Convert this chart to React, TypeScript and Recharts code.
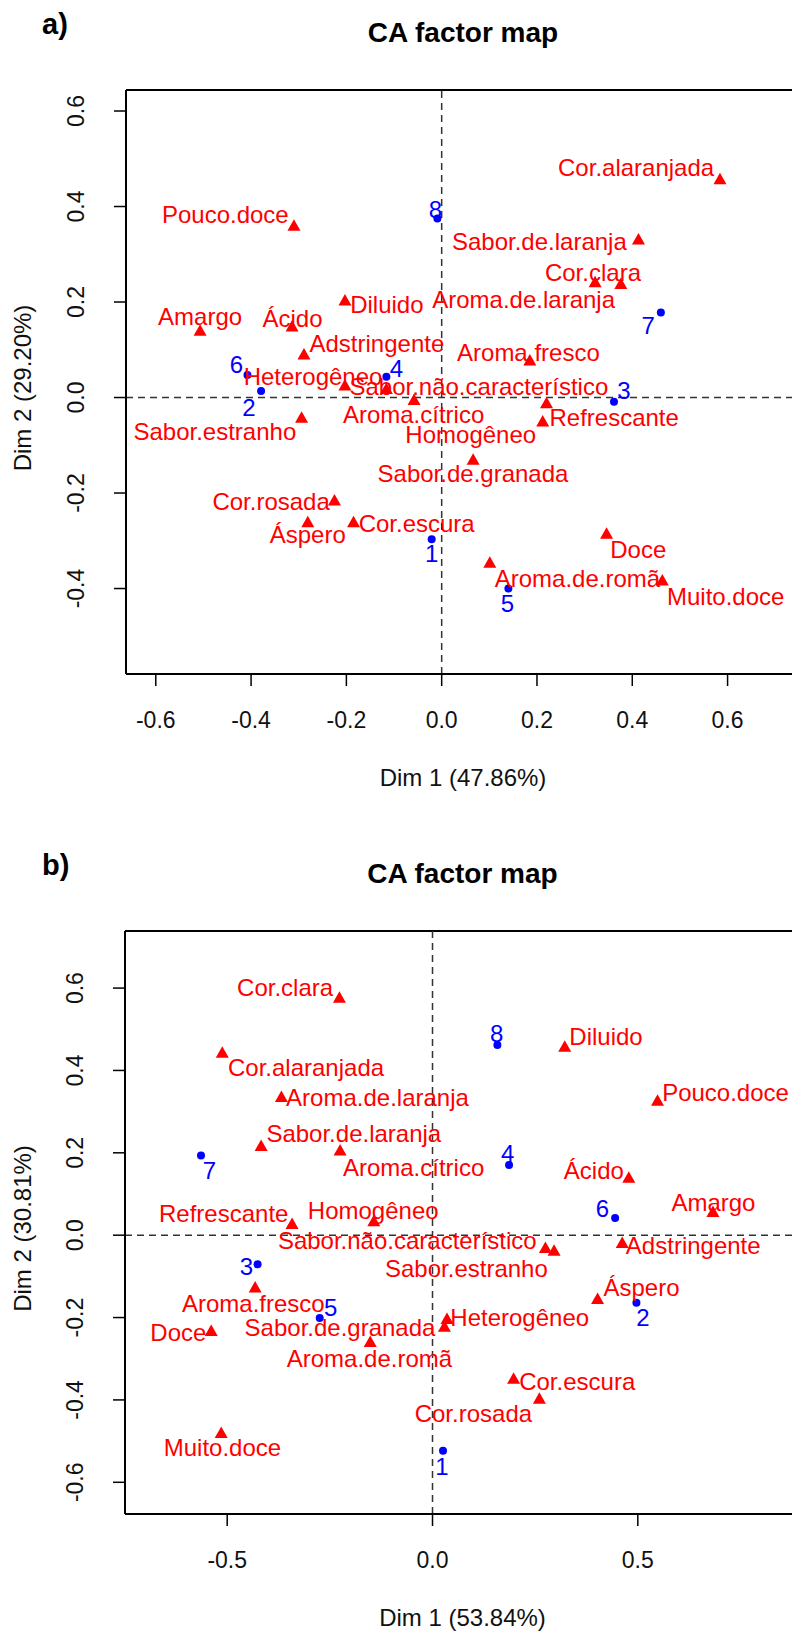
import React from 'react';
import { ScatterChart, Scatter, XAxis, YAxis, ReferenceLine } from 'recharts';

const FONT = "'Liberation Sans', Arial, Helvetica, sans-serif";

// ---- panel a) ----
const aColNames = ['Cor.alaranjada', 'Pouco.doce', 'Sabor.de.laranja', 'Cor.clara', 'Aroma.de.laranja', 'Diluido', 'Amargo', 'Ácido', 'Adstringente', 'Aroma.fresco', 'Heterogêneo', 'Sabor.não.característico', 'Aroma.cítrico', 'Homogêneo', 'Refrescante', 'Sabor.estranho', 'Sabor.de.granada', 'Cor.rosada', 'Áspero', 'Cor.escura', 'Doce', 'Aroma.de.romã', 'Muito.doce'];
const aColX = [0.584, -0.31, 0.413, 0.376, 0.322, -0.203, -0.507, -0.314, -0.289, 0.185, -0.203, -0.116, -0.058, 0.22, 0.212, -0.294, 0.066, -0.225, -0.281, -0.185, 0.346, 0.101, 0.463];
const aColY = [0.458, 0.361, 0.332, 0.239, 0.2425, 0.204, 0.141, 0.15, 0.091, 0.0785, 0.026, 0.019, -0.004, -0.011, -0.049, -0.0415, -0.1295, -0.2147, -0.26, -0.26, -0.284, -0.345, -0.382];
const aColLabX = [0.408, -0.454, 0.205, 0.3175, 0.172, -0.115, -0.507, -0.313, -0.136, 0.182, -0.27, 0.078, -0.059, 0.061, 0.362, -0.476, 0.0657, -0.358, -0.281, -0.0525, 0.4126, 0.285, 0.596];
const aColLabY = [0.481, 0.3836, 0.326, 0.261, 0.205, 0.194, 0.169, 0.166, 0.1135, 0.0947, 0.0436, 0.0226, -0.0366, -0.0785, -0.042, -0.0716, -0.16, -0.218, -0.288, -0.2635, -0.319, -0.379, -0.417];
const aRowNames = ['1', '2', '3', '4', '5', '6', '7', '8'];
const aRowX = [-0.021, -0.379, 0.3616, -0.116, 0.14, -0.4076, 0.46, -0.009];
const aRowY = [-0.297, 0.0136, -0.0088, 0.0436, -0.4, 0.047, 0.178, 0.375];
const aRowLabX = [-0.021, -0.4044, 0.3826, -0.095, 0.138, -0.431, 0.4336, -0.013];
const aRowLabY = [-0.326, -0.0205, 0.0142, 0.061, -0.431, 0.068, 0.15, 0.394];
const aXTicks = [-0.6, -0.4, -0.2, 0, 0.2, 0.4, 0.6];
const aYTicks = [-0.4, -0.2, 0, 0.2, 0.4, 0.6];

// ---- panel b) ----
const bColNames = ['Cor.clara', 'Diluido', 'Cor.alaranjada', 'Pouco.doce', 'Aroma.de.laranja', 'Sabor.de.laranja', 'Aroma.cítrico', 'Ácido', 'Amargo', 'Refrescante', 'Homogêneo', 'Sabor.não.característico', 'Adstringente', 'Sabor.estranho', 'Áspero', 'Aroma.fresco', 'Doce', 'Sabor.de.granada', 'Heterogêneo', 'Aroma.de.romã', 'Cor.escura', 'Cor.rosada', 'Muito.doce'];
const bColX = [-0.2267, 0.322, -0.512, 0.548, -0.368, -0.4174, -0.225, 0.478, 0.683, -0.342, -0.143, 0.275, 0.462, 0.296, 0.402, -0.432, -0.539, 0.029, 0.0353, -0.1517, 0.1975, 0.2603, -0.5146];
const bColY = [0.578, 0.459, 0.444, 0.3276, 0.337, 0.218, 0.207, 0.1405, 0.0576, 0.0283, 0.0349, -0.03, -0.018, -0.0366, -0.154, -0.126, -0.2317, -0.2212, -0.2024, -0.258, -0.3473, -0.396, -0.479];
const bColLabX = [-0.359, 0.4226, -0.308, 0.7136, -0.134, -0.1917, -0.046, 0.393, 0.6842, -0.5085, -0.1444, -0.0614, 0.635, 0.0826, 0.509, -0.4364, -0.619, -0.2253, 0.2124, -0.1537, 0.3524, 0.0996, -0.5115];
const bColLabY = [0.6, 0.482, 0.407, 0.346, 0.334, 0.246, 0.165, 0.157, 0.0795, 0.0512, 0.0593, -0.0122, -0.026, -0.0805, -0.128, -0.166, -0.2376, -0.2254, -0.201, -0.2985, -0.3554, -0.4327, -0.5163];
const bRowNames = ['1', '2', '3', '4', '5', '6', '7', '8'];
const bRowX = [0.0256, 0.4966, -0.426, 0.1864, -0.2747, 0.4447, -0.5638, 0.158];
const bRowY = [-0.5237, -0.1643, -0.0707, 0.1707, -0.201, 0.0415, 0.1934, 0.4617];
const bRowLabX = [0.023, 0.5127, -0.453, 0.183, -0.2477, 0.414, -0.543, 0.156];
const bRowLabY = [-0.563, -0.201, -0.0773, 0.199, -0.1766, 0.0634, 0.157, 0.49];
const bXTicks = [-0.5, 0, 0.5];
const bYTicks = [-0.6, -0.4, -0.2, 0, 0.2, 0.4, 0.6];

const toPoints = (names: string[], xs: number[], ys: number[]) =>
    names.map((name, i) => ({ name, x: xs[i], y: ys[i] }));

const Triangle = (props: any) => {
    const { cx, cy } = props;
    if (cx == null || cy == null) return null;
    return <polygon points={`${cx},${cy - 6} ${cx - 6.5},${cy + 5.5} ${cx + 6.5},${cy + 5.5}`} fill="#ff0000" />;
};

const Dot = (props: any) => {
    const { cx, cy } = props;
    if (cx == null || cy == null) return null;
    return <circle cx={cx} cy={cy} r={4} fill="#0000ff" />;
};

const makeLabel = (color: string) => (props: any) => {
    const { cx, cy, payload } = props;
    if (cx == null || cy == null) return null;
    return (
        <text x={cx} y={cy} dy="0.35em" textAnchor="middle" fill={color} fontSize={24} fontFamily={FONT}>
            {payload.name}
        </text>
    );
};

const XTick = (props: any) => (
    <text x={props.x} y={props.y + 42} textAnchor="middle" fill="#111" fontSize={23} fontFamily={FONT}>
        {Number(props.payload.value).toFixed(1)}
    </text>
);

const YTick = (props: any) => {
    const bx = props.x - 30;
    return (
        <text x={bx} y={props.y} textAnchor="middle" fill="#111" fontSize={23} fontFamily={FONT}
            transform={`rotate(-90, ${bx}, ${props.y})`}>
            {Number(props.payload.value).toFixed(1)}
        </text>
    );
};

interface PanelProps {
    letter: string;
    xTitle: string;
    yTitle: string;
    height: number;
    top: number;
    bottom: number;
    left: number;
    xDomain: [number, number];
    yDomain: [number, number];
    xTicks: number[];
    yTicks: number[];
    cols: { name: string; x: number; y: number }[];
    colLabels: { name: string; x: number; y: number }[];
    rows: { name: string; x: number; y: number }[];
    rowLabels: { name: string; x: number; y: number }[];
}

const CAPanel: React.FC<PanelProps> = (p) => {
    const W = 792;
    const plotBottom = p.height - p.bottom;
    const centerX = (p.left + 800) / 2;
    return (
        <div style={{ position: 'relative', width: W, height: p.height }}>
            <ScatterChart width={W} height={p.height}
                margin={{ top: p.top, right: 0, bottom: p.bottom - 60, left: p.left - 60 }}>
                <XAxis type="number" dataKey="x" domain={p.xDomain} allowDataOverflow ticks={p.xTicks}
                    height={60} tickSize={12} tickMargin={0} interval={0}
                    axisLine={{ stroke: '#000', strokeWidth: 2 }} tickLine={{ stroke: '#000', strokeWidth: 1.5 }}
                    tick={<XTick />} />
                <YAxis type="number" dataKey="y" domain={p.yDomain} allowDataOverflow ticks={p.yTicks}
                    width={60} tickSize={12} tickMargin={0} interval={0}
                    axisLine={{ stroke: '#000', strokeWidth: 2 }} tickLine={{ stroke: '#000', strokeWidth: 1.5 }}
                    tick={<YTick />} />
                <ReferenceLine y={p.yDomain[1]} stroke="#000" strokeWidth={2} />
                <ReferenceLine x={0} stroke="#333" strokeWidth={1.5} strokeDasharray="7 5" />
                <ReferenceLine y={0} stroke="#333" strokeWidth={1.5} strokeDasharray="7 5" />
                <Scatter data={p.cols} shape={Triangle} isAnimationActive={false} />
                <Scatter data={p.rows} shape={Dot} isAnimationActive={false} />
                <Scatter data={p.colLabels} shape={makeLabel('#ff0000')} isAnimationActive={false} />
                <Scatter data={p.rowLabels} shape={makeLabel('#0000ff')} isAnimationActive={false} />
            </ScatterChart>
            <svg width={W} height={p.height} style={{ position: 'absolute', left: 0, top: 0, pointerEvents: 'none' }}>
                <text x={42} y={p.top - 56} fontSize={29} fontWeight="bold" fontFamily={FONT} fill="#000">{p.letter}</text>
                <text x={centerX} y={p.top - 48} textAnchor="middle" fontSize={28} fontWeight="bold" fontFamily={FONT} fill="#000">
                    CA factor map
                </text>
                <text x={centerX} y={plotBottom + 112} textAnchor="middle" fontSize={24} fontFamily={FONT} fill="#111">
                    {p.xTitle}
                </text>
                <text x={31} y={(p.top + plotBottom) / 2 + 6} textAnchor="middle" fontSize={24} fontFamily={FONT} fill="#111"
                    transform={`rotate(-90, 31, ${(p.top + plotBottom) / 2 + 6})`}>
                    {p.yTitle}
                </text>
            </svg>
        </div>
    );
};

export default function App() {
    return (
        <div style={{ position: 'absolute', left: 0, top: 0, width: 792, height: 1635, background: '#fff' }}>
            <CAPanel
                letter="a)" xTitle="Dim 1 (47.86%)" yTitle="Dim 2 (29.20%)"
                height={800} top={90} bottom={126} left={126}
                xDomain={[-0.6625, 0.7352]} yDomain={[-0.579, 0.644]}
                xTicks={aXTicks} yTicks={aYTicks}
                cols={toPoints(aColNames, aColX, aColY)}
                colLabels={toPoints(aColNames, aColLabX, aColLabY)}
                rows={toPoints(aRowNames, aRowX, aRowY)}
                rowLabels={toPoints(aRowNames, aRowLabX, aRowLabY)}
            />
            <CAPanel
                letter="b)" xTitle="Dim 1 (53.84%)" yTitle="Dim 2 (30.81%)"
                height={835} top={131} bottom={121} left={125}
                xDomain={[-0.7489, 0.8755]} yDomain={[-0.677, 0.7386]}
                xTicks={bXTicks} yTicks={bYTicks}
                cols={toPoints(bColNames, bColX, bColY)}
                colLabels={toPoints(bColNames, bColLabX, bColLabY)}
                rows={toPoints(bRowNames, bRowX, bRowY)}
                rowLabels={toPoints(bRowNames, bRowLabX, bRowLabY)}
            />
        </div>
    );
}
